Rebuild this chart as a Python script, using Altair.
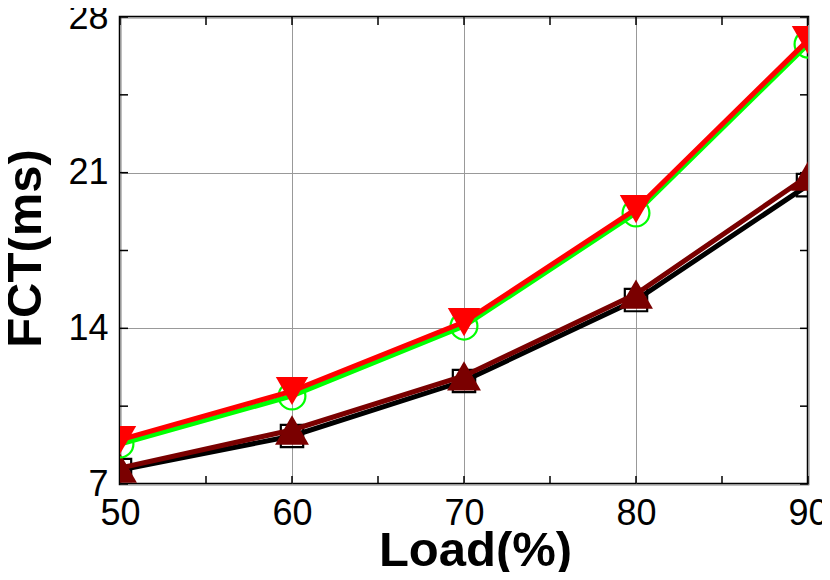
import altair as alt
import pandas as pd

loads = [50, 60, 70, 80, 90]
s_black = [7.63, 9.16, 11.63, 15.27, 20.44]
s_darkred = [7.72, 9.43, 11.86, 15.54, 20.85]
s_green = [8.80, 10.96, 14.10, 19.19, 26.78]
s_red = [8.98, 11.18, 14.28, 19.36, 26.96]

x_ticks = [50, 55, 60, 65, 70, 75, 80, 85, 90]
y_ticks = [7, 10.5, 14, 17.5, 21, 24.5, 28]
y_labels = [7, 14, 21, 28]

W, H = 688, 467
FONT = "Liberation Sans"

xs = alt.Scale(domain=[50, 90], nice=False)
ys = alt.Scale(domain=[7, 28], nice=False, zero=False)

X_AX = alt.Axis(values=loads, grid=True, gridColor="#999999", gridWidth=1,
                ticks=False, domain=False, labelFont=FONT, labelFontSize=36,
                labelColor="black", labelPadding=12, labelFlush=False, labelOverlap=False,
                titleFont=FONT, titleFontSize=49, titleFontWeight="bold",
                titleColor="black", titleX=355, titleY=66,
                titleBaseline="middle", titleAlign="center")
Y_AX = alt.Axis(values=y_labels, grid=True, gridColor="#999999", gridWidth=1,
                ticks=False, domain=False, labelFont=FONT, labelFontSize=36,
                labelColor="black", labelPadding=12, labelFlush=False, labelOverlap=False,
                titleFont=FONT, titleFontSize=49, titleFontWeight="bold",
                titleColor="black", titleX=-95, titleY=231, titleAngle=-90,
                titleBaseline="middle", titleAlign="center")

def XE():
    return alt.X("load:Q", scale=xs, title="Load(%)", axis=X_AX)

def YE():
    return alt.Y("fct:Q", scale=ys, title="FCT(ms)", axis=Y_AX)

def series(vals, color, shape, size, filled):
    df = pd.DataFrame({"load": loads, "fct": vals})
    base = alt.Chart(df)
    line = base.mark_line(color=color, strokeWidth=5, clip=True).encode(x=XE(), y=YE())
    if filled:
        pt = base.mark_point(shape=shape, size=size, filled=True, color=color,
                             opacity=1, clip=True)
    else:
        pt = base.mark_point(shape=shape, size=size, filled=False, color=color,
                             strokeWidth=2.2, opacity=1, clip=True)
    pt = pt.encode(x=XE(), y=YE())
    return [line, pt]

tx = pd.DataFrame({"load": x_ticks})
ty = pd.DataFrame({"fct": y_ticks})
TL = 8
tick_bottom = alt.Chart(tx).mark_rule(color="black", strokeWidth=1.5).encode(
    x=XE(), y=alt.value(H), y2=alt.value(H - TL))
tick_top = alt.Chart(tx).mark_rule(color="black", strokeWidth=1.5).encode(
    x=XE(), y=alt.value(0), y2=alt.value(TL))
tick_left = alt.Chart(ty).mark_rule(color="black", strokeWidth=1.5).encode(
    y=YE(), x=alt.value(0), x2=alt.value(TL))
tick_right = alt.Chart(ty).mark_rule(color="black", strokeWidth=1.5).encode(
    y=YE(), x=alt.value(W), x2=alt.value(W - TL))

layers = [tick_bottom, tick_top, tick_left, tick_right]
layers += series(s_black, "#000000", "square", 500, False)
layers += series(s_darkred, "#7a0000", "triangle-up", 1150, True)
layers += series(s_green, "#00ff00", "circle", 720, False)
layers += series(s_red, "#ff0000", "triangle-down", 1050, True)

chart = alt.layer(*layers).properties(
    width=W, height=H,
    background="white",
    autosize=alt.AutoSizeParams(type="none"),
    padding={"left": 112, "top": 9, "right": 14, "bottom": 88},
).configure_view(stroke="black", strokeWidth=2.5)

chart.save("out.html", embed_options={"renderer": "svg", "actions": False})
